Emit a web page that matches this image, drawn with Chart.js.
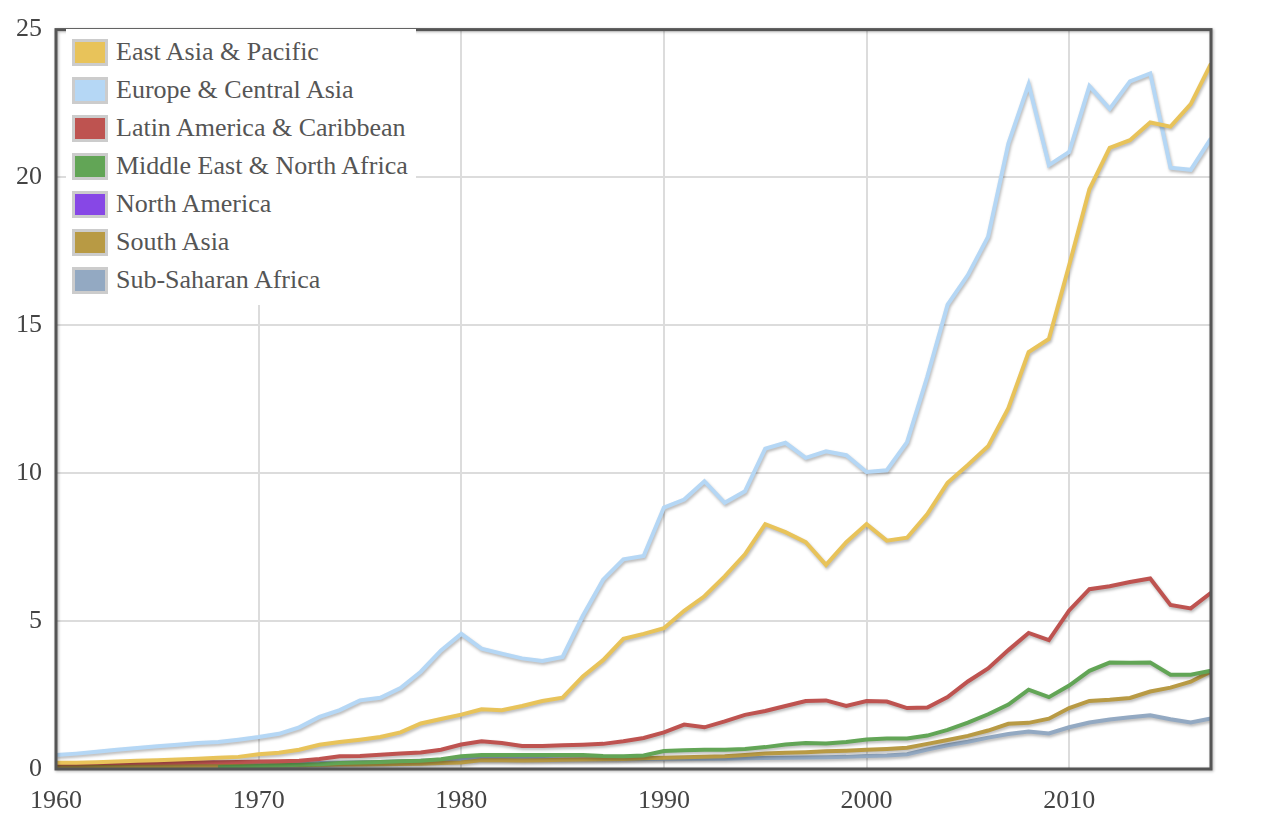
<!DOCTYPE html>
<html>
<head>
<meta charset="utf-8">
<script src="https://cdn.jsdelivr.net/npm/chart.js@4.4.1/dist/chart.umd.min.js"></script>
<style>
  body { margin: 0; background: #fff; }
  #wrap { position: relative; width: 1284px; height: 840px; }
  #leyenda {
    position: absolute; left: 66px; top: 29px; width: 350px;
    background: #fff; padding: 4px 0 6px 0;
    font-family: "Liberation Serif", "DejaVu Serif", serif; font-size: 26px; color: #555;
  }
  .item { display: flex; align-items: center; height: 38px; }
  .caja { width: 30px; height: 21px; border: 3px solid #ccc; margin: 0 8px 0 6px; box-sizing: content-box; }
</style>
</head>
<body>
<div id="wrap">
  <canvas id="myChart"></canvas>
  <div id="leyenda"></div>
</div>
<script>
// años 1960 - 2017
const anios = Array.from({ length: 58 }, (_, i) => 1960 + i);

const eastAsiaPacific = [
  0.21, 0.21, 0.23, 0.25, 0.28, 0.30, 0.32, 0.35, 0.38, 0.41,
  0.50, 0.55, 0.65, 0.82, 0.91, 0.99, 1.08, 1.24, 1.54, 1.69,
  1.84, 2.02, 1.99, 2.13, 2.30, 2.41, 3.13, 3.68, 4.40, 4.57,
  4.76, 5.35, 5.84, 6.51, 7.26, 8.28, 8.01, 7.67, 6.90, 7.67,
  8.28, 7.72, 7.82, 8.62, 9.68, 10.28, 10.91, 12.2, 14.1, 14.54,
  17.03, 19.6, 21.0, 21.26, 21.86, 21.72, 22.48, 23.85
];
const europeCentralAsia = [
  0.47, 0.52, 0.58, 0.65, 0.71, 0.77, 0.82, 0.88, 0.91, 0.99,
  1.08, 1.19, 1.41, 1.76, 1.99, 2.32, 2.41, 2.74, 3.29, 4.01,
  4.57, 4.07, 3.90, 3.74, 3.65, 3.79, 5.18, 6.40, 7.09, 7.20,
  8.84, 9.11, 9.73, 9.00, 9.39, 10.83, 11.03, 10.52, 10.74, 10.61,
  10.04, 10.10, 11.05, 13.27, 15.7, 16.7, 18.0, 21.15, 23.15, 20.42,
  20.86, 23.09, 22.32, 23.25, 23.52, 20.33, 20.26, 21.32
];
const latinAmerica = [
  0.19, 0.19, 0.20, 0.20, 0.21, 0.21, 0.22, 0.23, 0.23, 0.24,
  0.25, 0.26, 0.28, 0.34, 0.43, 0.44, 0.48, 0.52, 0.56, 0.65,
  0.83, 0.94, 0.88, 0.78, 0.78, 0.80, 0.82, 0.85, 0.94, 1.05,
  1.24, 1.50, 1.41, 1.61, 1.83, 1.96, 2.13, 2.30, 2.32, 2.13,
  2.30, 2.28, 2.06, 2.08, 2.43, 2.96, 3.40, 4.02, 4.60, 4.36,
  5.36, 6.08, 6.18, 6.32, 6.44, 5.55, 5.43, 5.96
];
const middleEast = [
  null, null, null, null, null, null, null, null, 0.06, 0.08,
  0.10, 0.12, 0.14, 0.16, 0.20, 0.22, 0.24, 0.26, 0.28, 0.33,
  0.43, 0.47, 0.47, 0.47, 0.47, 0.47, 0.47, 0.44, 0.43, 0.46,
  0.61, 0.63, 0.65, 0.65, 0.68, 0.74, 0.83, 0.88, 0.86, 0.91,
  1.00, 1.03, 1.03, 1.13, 1.32, 1.57, 1.85, 2.18, 2.68, 2.43,
  2.82, 3.32, 3.60, 3.59, 3.60, 3.19, 3.19, 3.32
];
const northAmerica = []; // sin datos visibles
const southAsia = [
  0.08, 0.08, 0.09, 0.09, 0.10, 0.10, 0.10, 0.11, 0.11, 0.12,
  0.12, 0.13, 0.13, 0.14, 0.15, 0.15, 0.16, 0.17, 0.18, 0.20,
  0.22, 0.30, 0.30, 0.29, 0.30, 0.31, 0.32, 0.33, 0.34, 0.36,
  0.38, 0.40, 0.41, 0.43, 0.47, 0.52, 0.55, 0.57, 0.60, 0.62,
  0.65, 0.68, 0.72, 0.85, 0.98, 1.12, 1.30, 1.53, 1.56, 1.70,
  2.06, 2.30, 2.34, 2.40, 2.62, 2.75, 2.95, 3.30
];
const subSaharan = [
  0.10, 0.10, 0.11, 0.11, 0.12, 0.12, 0.13, 0.14, 0.15, 0.16,
  0.17, 0.18, 0.19, 0.20, 0.22, 0.23, 0.24, 0.26, 0.28, 0.30,
  0.33, 0.35, 0.35, 0.34, 0.34, 0.33, 0.33, 0.33, 0.34, 0.34,
  0.35, 0.35, 0.35, 0.35, 0.36, 0.37, 0.38, 0.39, 0.40, 0.41,
  0.44, 0.46, 0.50, 0.66, 0.80, 0.92, 1.06, 1.18, 1.27, 1.20,
  1.41, 1.57, 1.67, 1.75, 1.82, 1.68, 1.57, 1.71
];

const series = [
  { nombre: "East Asia & Pacific", datos: eastAsiaPacific, color: "#e8c35a" },
  { nombre: "Europe & Central Asia", datos: europeCentralAsia, color: "#b5d7f5" },
  { nombre: "Latin America & Caribbean", datos: latinAmerica, color: "#be5350" },
  { nombre: "Middle East & North Africa", datos: middleEast, color: "#62a556" },
  { nombre: "North America", datos: northAmerica, color: "#8747e6" },
  { nombre: "South Asia", datos: southAsia, color: "#b89a44" },
  { nombre: "Sub-Saharan Africa", datos: subSaharan, color: "#93a9c2" }
];

const yTicks = [0, 5, 10, 15, 20, 25];
const xTicks = [1960, 1970, 1980, 1990, 2000, 2010];

const fuente = "'Liberation Serif', 'DejaVu Serif', serif";

// sombra de las lineas
const sombra = {
  id: "sombra",
  beforeDatasetDraw(chart) {
    const ctx = chart.ctx;
    ctx.save();
    ctx.shadowColor = "rgba(0,0,0,0.28)";
    ctx.shadowBlur = 3;
    ctx.shadowOffsetX = 1;
    ctx.shadowOffsetY = 2;
  },
  afterDatasetDraw(chart) {
    chart.ctx.restore();
  }
};

// marco oscuro alrededor del area
const marco = {
  id: "marco",
  afterDatasetsDraw(chart) {
    const { ctx, chartArea: a } = chart;
    ctx.save();
    ctx.shadowColor = "rgba(0,0,0,0.3)";
    ctx.shadowBlur = 3;
    ctx.shadowOffsetX = 1;
    ctx.shadowOffsetY = 1;
    ctx.strokeStyle = "#555";
    ctx.lineWidth = 3;
    ctx.strokeRect(a.left, a.top, a.right - a.left, a.bottom - a.top);
    ctx.restore();
  }
};

const ctx = document.getElementById("myChart");

new Chart(ctx, {
  type: "line",
  data: {
    datasets: series.map(s => ({
      label: s.nombre,
      data: s.datos.map((v, i) => ({ x: anios[i], y: v })),
      borderColor: s.color,
      backgroundColor: s.color,
      borderWidth: 4,
      pointRadius: 0,
      tension: 0
    }))
  },
  options: {
    responsive: true,
    maintainAspectRatio: false,
    animation: false,
    layout: { padding: { top: 17, right: 73, left: 0, bottom: 0 } },
    plugins: {
      legend: { display: false },
      tooltip: { enabled: false }
    },
    scales: {
      x: {
        type: "linear",
        min: 1960,
        max: 2017,
        afterFit: (scale) => { scale.height = 71; },
        afterBuildTicks: (scale) => { scale.ticks = xTicks.map(v => ({ value: v })); },
        grid: { color: "#dcdcdc", lineWidth: 2, drawTicks: false },
        border: { display: false },
        ticks: {
          padding: 17,
          maxRotation: 0,
          color: "#444",
          font: { family: fuente, size: 26 },
          callback: (v) => String(v)
        }
      },
      y: {
        min: 0,
        max: 25,
        afterFit: (scale) => { scale.width = 56; },
        afterBuildTicks: (scale) => { scale.ticks = yTicks.map(v => ({ value: v })); },
        grid: { color: "#dcdcdc", lineWidth: 2, drawTicks: false },
        border: { display: false },
        ticks: {
          padding: 14,
          color: "#444",
          font: { family: fuente, size: 26 }
        }
      }
    }
  },
  plugins: [sombra, marco]
});

// leyenda html
const leyenda = document.getElementById("leyenda");
series.forEach(s => {
  const fila = document.createElement("div");
  fila.className = "item";
  fila.innerHTML = '<span class="caja" style="background:' + s.color + '"></span><span>' + s.nombre + '</span>';
  leyenda.appendChild(fila);
});
</script>
</body>
</html>
